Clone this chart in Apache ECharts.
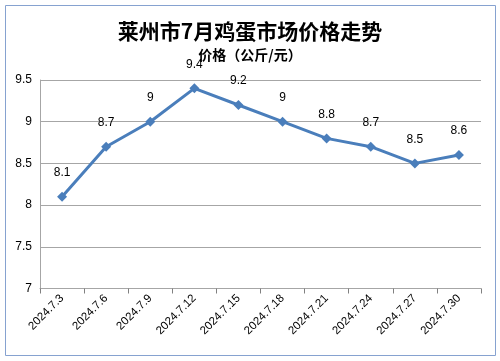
<!DOCTYPE html>
<html><head><meta charset="utf-8">
<script src="https://cdn.jsdelivr.net/npm/echarts@6/dist/echarts.min.js"></script>
<style>html,body{margin:0;padding:0;background:#fff}#c{width:500px;height:361px}</style>
</head><body><div id="c"></div>
<script>
const categories = ['2024.7.3','2024.7.6','2024.7.9','2024.7.12','2024.7.15','2024.7.18','2024.7.21','2024.7.24','2024.7.27','2024.7.30'];
const prices = [8.1, 8.7, 9, 9.4, 9.2, 9, 8.8, 8.7, 8.5, 8.6];
const chart = echarts.init(document.getElementById('c'));
chart.setOption({
  animation: false,
  graphic: [{type:'rect', shape:{x:5.5,y:5.5,width:490,height:350}, style:{fill:'none', stroke:'#86a2d0', lineWidth:1}}],
  title: [
    {text:'莱州市7月鸡蛋市场价格走势', left:'center', top:16, textStyle:{fontFamily:'Noto Sans CJK SC', fontSize:21, fontWeight:'bold', color:'#000'}},
    {text:'价格（公斤/元）', left:'center', top:43, textStyle:{fontFamily:'Noto Sans CJK SC', fontSize:14, fontWeight:'bold', color:'#000'}}
  ],
  grid: {left:40, right:19, top:80, bottom:72.5},
  xAxis: {type:'category', data:categories, boundaryGap:true,
    axisLine:{lineStyle:{color:'#a6a6a6'}}, axisTick:{show:true, lineStyle:{color:'#808080'}, length:5},
    axisLabel:{rotate:45, fontSize:11.5, color:'#000', fontFamily:'Liberation Sans', margin:8, interval:0}},
  yAxis: {type:'value', min:7, max:9.5, interval:0.5,
    axisLine:{show:true, lineStyle:{color:'#a6a6a6'}}, axisTick:{show:false},
    splitLine:{lineStyle:{color:'#a6a6a6'}},
    axisLabel:{fontSize:12, color:'#000', fontFamily:'Liberation Sans', margin:8}},
  series: [{type:'line', data:prices, symbol:'diamond', symbolSize:10,
    lineStyle:{color:'#4a7ebb', width:3}, itemStyle:{color:'#4a7ebb'},
    label:{show:true, position:'top', distance:13, fontSize:12, color:'#000', fontFamily:'Liberation Sans'}}]
});
</script></body></html>
